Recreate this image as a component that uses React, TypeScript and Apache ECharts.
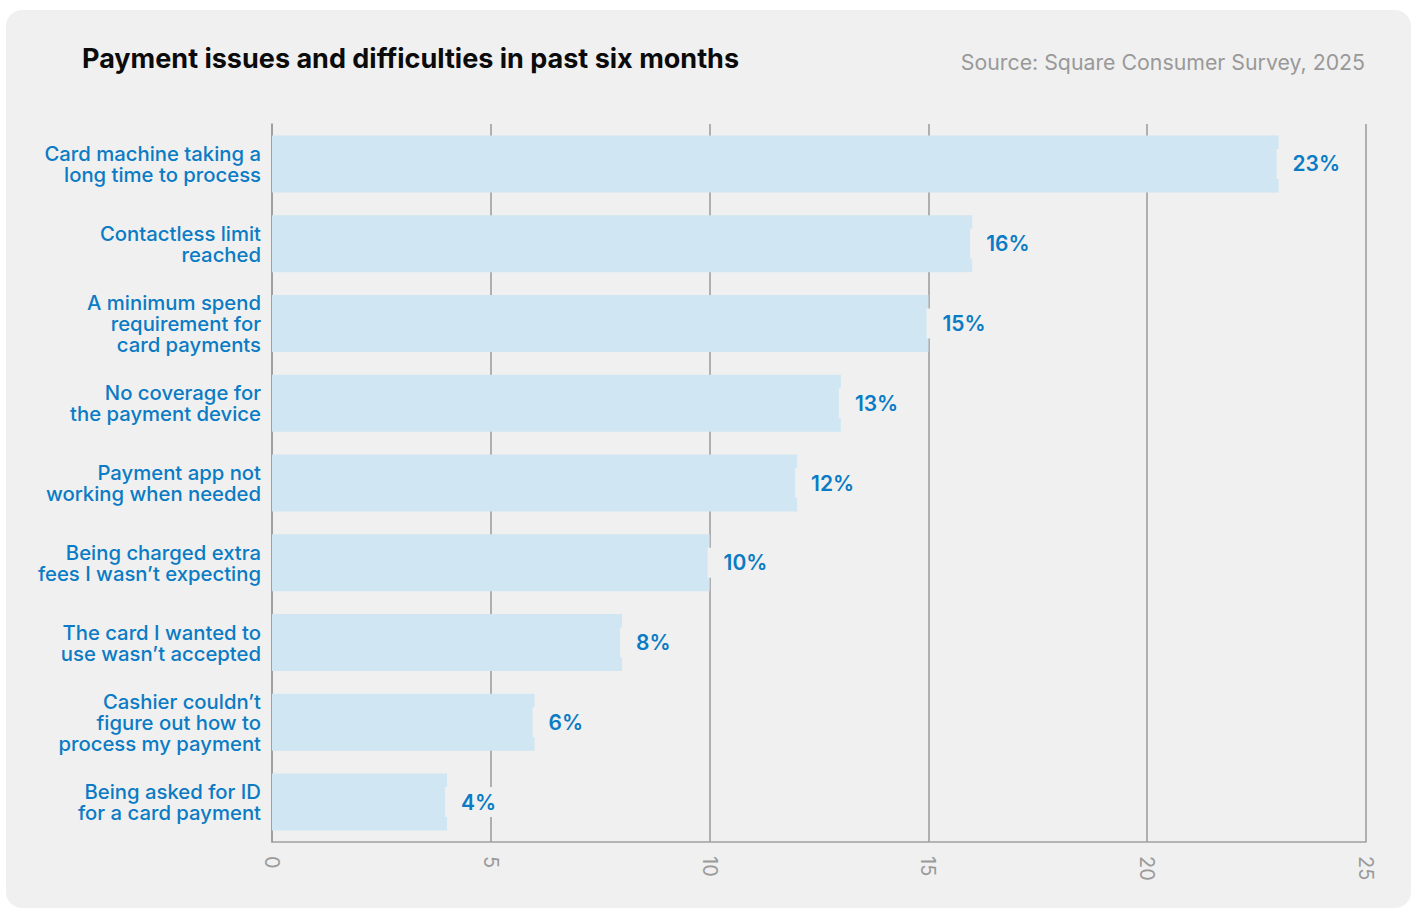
import React, { useEffect, useRef } from "react";
import * as echarts from "echarts";

const categories = [
  "Card machine taking a\nlong time to process",
  "Contactless limit\nreached",
  "A minimum spend\nrequirement for\ncard payments",
  "No coverage for\nthe payment device",
  "Payment app not\nworking when needed",
  "Being charged extra\nfees I wasn’t expecting",
  "The card I wanted to\nuse wasn’t accepted",
  "Cashier couldn’t\nfigure out how to\nprocess my payment",
  "Being asked for ID\nfor a card payment",
];
const values = [23, 16, 15, 13, 12, 10, 8, 6, 4];
const xTicks = [0, 5, 10, 15, 20, 25];

const TITLE = "Payment issues and difficulties in past six months";
const SOURCE = "Source: Square Consumer Survey, 2025";

const BLUE = "#0a7bc4";
const FONT = "Inter, 'Noto Sans', sans-serif";

export default function App() {
  const ref = useRef<HTMLDivElement>(null);
  useEffect(() => {
    if (!ref.current) return;
    const chart = echarts.init(ref.current, null, { renderer: "svg" });
    chart.setOption({
      animation: false,
      backgroundColor: "#ffffff",
      textStyle: { fontFamily: FONT },
      graphic: [
        {
          type: "rect",
          z: -10,
          silent: true,
          shape: { x: 6, y: 10, width: 1405, height: 898, r: 16 },
          style: { fill: "#f0f0f0" },
        },
        {
          type: "text",
          left: 82,
          top: 45,
          style: {
            text: TITLE,
            font: `700 27px ${FONT}`,
            fill: "#0b0b0b",
          },
        },
        {
          type: "text",
          right: 51,
          top: 51,
          style: {
            text: SOURCE,
            font: `400 21.3px ${FONT}`,
            fill: "#999999",
          },
        },
      ],
      grid: { left: 272, right: 50, top: 124, bottom: 67, containLabel: false },
      xAxis: {
        type: "value",
        min: xTicks[0],
        max: xTicks[xTicks.length - 1],
        interval: 5,
        axisLine: { show: true, lineStyle: { color: "#a0a0a0", width: 1.5 } },
        axisTick: { show: false },
        splitLine: { show: true, lineStyle: { color: "#9a9a9a", width: 1.5 } },
        axisLabel: {
          rotate: -90,
          margin: 14,
          color: "#9a9a9a",
          fontSize: 20,
          fontFamily: FONT,
        },
      },
      yAxis: {
        type: "category",
        data: categories,
        inverse: true,
        axisLine: { show: true, lineStyle: { color: "#9a9a9a", width: 1.5 } },
        axisTick: { show: false },
        axisLabel: {
          margin: 11,
          color: BLUE,
          fontSize: 20.3,
          lineHeight: 21,
          fontWeight: 500,
          align: "right",
          fontFamily: FONT,
        },
      },
      series: [
        {
          type: "bar",
          data: values,
          barWidth: 57,
          itemStyle: { color: "#d0e6f2" },
          z: 3,
          label: {
            show: true,
            position: "right",
            distance: -2,
            formatter: "{c}%",
            color: BLUE,
            fontSize: 21,
            fontWeight: 600,
            fontFamily: FONT,
            backgroundColor: "#f0f0f0",
            padding: [5, 8, 4, 16],
          },
        },
      ],
    });
    return () => chart.dispose();
  }, []);
  return (
    <div
      ref={ref}
      style={{ position: "fixed", left: 0, top: 0, width: 1416, height: 909 }}
    />
  );
}
